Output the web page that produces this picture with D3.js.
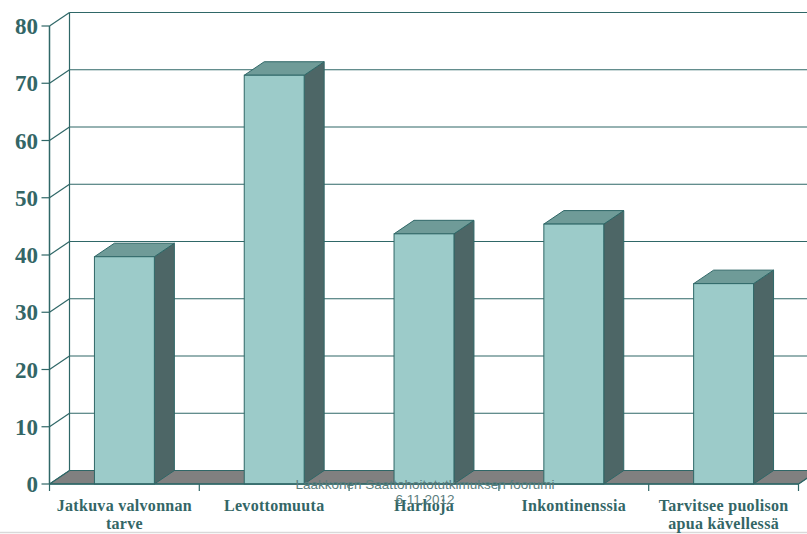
<!DOCTYPE html>
<html>
<head>
<meta charset="utf-8">
<script src="https://cdn.jsdelivr.net/npm/d3@7"></script>
<style>
  body { margin: 0; background: #fff; }
  svg { display: block; }
</style>
</head>
<body>
<div id="chart"></div>
<script>
// data
var categories = [["Jatkuva valvonnan", "tarve"], ["Levottomuuta"], ["Harhoja"], ["Inkontinenssia"], ["Tarvitsee puolison", "apua kävellessä"]];
var values = [39.7, 71.4, 43.7, 45.4, 35.0];
var yTicks = [0, 10, 20, 30, 40, 50, 60, 70, 80];

var w = 807;
var h = 534;
var dx = 20, dy = -13.5;   // 3d depth offset
var teal = "#2f6767";
var txt = "#336666";

var svg = d3.select("#chart").append("svg").attr("width", w).attr("height", h);

var y = d3.scaleLinear().domain([0, 80]).range([484, 26]);
var x = d3.scaleBand().domain(d3.range(values.length)).range([49.5, 798.5]).padding(0);
var bw = x.bandwidth() * 0.4;

// bottom page line
svg.append("line")
    .attr("x1", 0).attr("x2", w).attr("y1", 532.5).attr("y2", 532.5)
    .attr("stroke", "#d9d9d9").attr("stroke-width", 1.5);

// floor
var x0 = x.range()[0], x1 = x.range()[1];
svg.append("polygon")
    .attr("points", [[x0, y(0)], [x1, y(0)], [x1 + dx, y(0) + dy], [x0 + dx, y(0) + dy]].join(" "))
    .attr("fill", "#808080").attr("stroke", teal).attr("stroke-width", 1);

// back wall gridlines
svg.selectAll(".grid")
    .data(yTicks)
    .enter()
    .append("line")
    .attr("x1", x0 + dx).attr("x2", w + 5)
    .attr("y1", function(d) { return y(d) + dy; })
    .attr("y2", function(d) { return y(d) + dy; })
    .attr("stroke", function(d) { return d === 0 ? "none" : teal; })
    .attr("stroke-width", 1.2);

// side wall diagonals
svg.selectAll(".diag")
    .data(yTicks)
    .enter()
    .append("line")
    .attr("x1", x0).attr("x2", x0 + dx)
    .attr("y1", function(d) { return y(d); })
    .attr("y2", function(d) { return y(d) + dy; })
    .attr("stroke", teal).attr("stroke-width", 1.2);

// back wall left edge
svg.append("line")
    .attr("x1", x0 + dx).attr("x2", x0 + dx)
    .attr("y1", y(80) + dy).attr("y2", y(0) + dy)
    .attr("stroke", teal).attr("stroke-width", 1.2);

// bars
var bars = svg.selectAll(".bar")
    .data(values)
    .enter()
    .append("g");

bars.append("polygon")   // side
    .attr("points", function(d, i) {
        var bx = x(i) + (x.bandwidth() - bw) / 2 + bw;
        return [[bx, y(d)], [bx + dx, y(d) + dy], [bx + dx, y(0) + dy], [bx, y(0)]].join(" ");
    })
    .attr("fill", "#4d6666").attr("stroke", teal).attr("stroke-width", 1);

bars.append("polygon")   // top
    .attr("points", function(d, i) {
        var bx = x(i) + (x.bandwidth() - bw) / 2;
        return [[bx, y(d)], [bx + bw, y(d)], [bx + bw + dx, y(d) + dy], [bx + dx, y(d) + dy]].join(" ");
    })
    .attr("fill", "#6f9b98").attr("stroke", teal).attr("stroke-width", 1);

bars.append("rect")      // front
    .attr("x", function(d, i) { return x(i) + (x.bandwidth() - bw) / 2; })
    .attr("y", function(d) { return y(d); })
    .attr("width", bw)
    .attr("height", function(d) { return y(0) - y(d); })
    .attr("fill", "#9ccbc9").attr("stroke", teal).attr("stroke-width", 1);

// y axis
svg.append("line")
    .attr("x1", x0).attr("x2", x0).attr("y1", y(80)).attr("y2", y(0))
    .attr("stroke", teal).attr("stroke-width", 1.5);

svg.selectAll(".ytick")
    .data(yTicks)
    .enter()
    .append("line")
    .attr("x1", x0 - 8).attr("x2", x0)
    .attr("y1", function(d) { return y(d); })
    .attr("y2", function(d) { return y(d); })
    .attr("stroke", teal).attr("stroke-width", 1.2);

svg.selectAll(".ylabel")
    .data(yTicks)
    .enter()
    .append("text")
    .text(function(d) { return d; })
    .attr("x", 38)
    .attr("y", function(d) { return y(d) + 8; })
    .attr("text-anchor", "end")
    .attr("font-family", "Liberation Serif, serif")
    .attr("font-weight", "bold")
    .attr("font-size", "23px")
    .attr("fill", txt);

// x axis
svg.append("line")
    .attr("x1", x0).attr("x2", x1).attr("y1", y(0)).attr("y2", y(0))
    .attr("stroke", teal).attr("stroke-width", 1.5);
svg.append("line")
    .attr("x1", x1).attr("x2", x1 + dx).attr("y1", y(0)).attr("y2", y(0) + dy)
    .attr("stroke", teal).attr("stroke-width", 1.2);

svg.selectAll(".xtick")
    .data(d3.range(values.length + 1))
    .enter()
    .append("line")
    .attr("x1", function(d) { return x0 + d * x.bandwidth(); })
    .attr("x2", function(d) { return x0 + d * x.bandwidth(); })
    .attr("y1", y(0)).attr("y2", y(0) + 7)
    .attr("stroke", teal).attr("stroke-width", 1.2);

var labels = svg.selectAll(".xlabel")
    .data(categories)
    .enter()
    .append("text")
    .attr("text-anchor", "middle")
    .attr("font-family", "Liberation Serif, serif")
    .attr("font-weight", "bold")
    .attr("font-size", "16px")
    .attr("letter-spacing", "0.3px")
    .attr("fill", txt);

labels.selectAll("tspan")
    .data(function(d, i) { return d.map(function(s) { return { s: s, i: i }; }); })
    .enter()
    .append("tspan")
    .attr("x", function(d) { return x(d.i) + x.bandwidth() / 2; })
    .attr("y", function(d, j) { return 511 + j * 17.5; })
    .text(function(d) { return d.s; });

// footer
svg.append("text")
    .text("Laakkonen Saattohoitotutkimuksen foorumi")
    .attr("x", 425).attr("y", 489)
    .attr("text-anchor", "middle")
    .attr("font-family", "Liberation Sans, Arial, sans-serif")
    .attr("font-size", "13.5px")
    .attr("fill", "#5b7d7d");
svg.append("text")
    .text("6.11.2012")
    .attr("x", 425).attr("y", 504)
    .attr("text-anchor", "middle")
    .attr("font-family", "Liberation Sans, Arial, sans-serif")
    .attr("font-size", "13.5px")
    .attr("fill", "#5b7d7d");
</script>
</body>
</html>
